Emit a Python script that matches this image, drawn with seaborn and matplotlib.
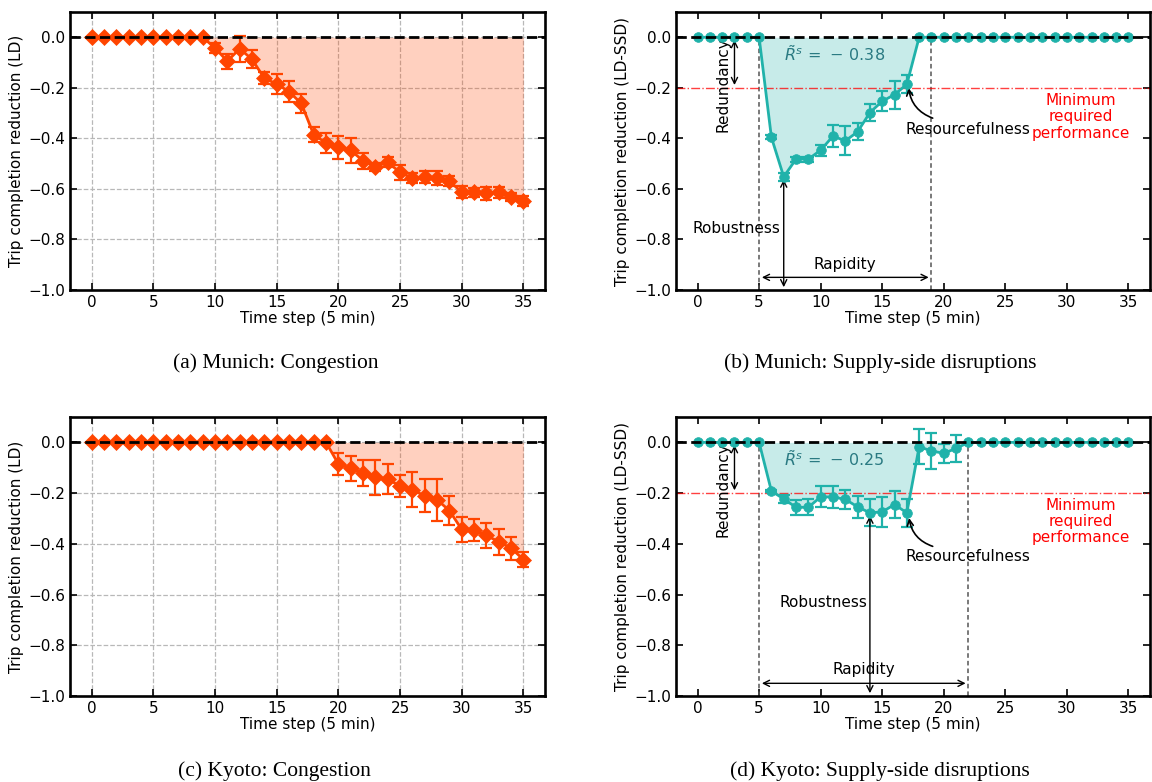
import numpy as np
import pandas as pd
import matplotlib
matplotlib.use("Agg")
import matplotlib.pyplot as plt
import seaborn as sns

# ---------------- data ----------------
time_steps = [0, 1, 2, 3, 4, 5, 6, 7, 8, 9, 10, 11, 12, 13, 14, 15, 16, 17,
              18, 19, 20, 21, 22, 23, 24, 25, 26, 27, 28, 29, 30, 31, 32, 33, 34, 35]

munich_ld = [0, 0, 0, 0, 0, 0, 0, 0, 0, 0,
             -0.042, -0.095, -0.045, -0.087, -0.162, -0.185, -0.215, -0.262,
             -0.385, -0.418, -0.435, -0.447, -0.489, -0.513, -0.494, -0.535,
             -0.557, -0.553, -0.557, -0.569, -0.613, -0.614, -0.618, -0.614,
             -0.631, -0.648]
munich_ld_err = [0, 0, 0, 0, 0, 0, 0, 0, 0, 0,
                 0.020, 0.030, 0.052, 0.035, 0.023, 0.038, 0.042, 0.036,
                 0.028, 0.038, 0.045, 0.050, 0.033, 0.017, 0.021, 0.029,
                 0.020, 0.023, 0.026, 0.020, 0.024, 0.018, 0.024, 0.022,
                 0.015, 0.018]

munich_ssd = [0, 0, 0, 0, 0, 0,
              -0.396, -0.552, -0.482, -0.482, -0.447, -0.391, -0.410, -0.374,
              -0.298, -0.253, -0.227, -0.186,
              0, 0, 0, 0, 0, 0, 0, 0, 0, 0, 0, 0, 0, 0, 0, 0, 0, 0]
munich_ssd_err = [0, 0, 0, 0, 0, 0,
                  0.008, 0.015, 0.010, 0.010, 0.022, 0.042, 0.057, 0.033,
                  0.033, 0.040, 0.055, 0.036,
                  0, 0, 0, 0, 0, 0, 0, 0, 0, 0, 0, 0, 0, 0, 0, 0, 0, 0]

kyoto_ld = [0, 0, 0, 0, 0, 0, 0, 0, 0, 0, 0, 0, 0, 0, 0, 0, 0, 0, 0, 0,
            -0.085, -0.103, -0.121, -0.138, -0.144, -0.173, -0.187, -0.211,
            -0.226, -0.269, -0.343, -0.346, -0.367, -0.392, -0.417, -0.462]
kyoto_ld_err = [0, 0, 0, 0, 0, 0, 0, 0, 0, 0, 0, 0, 0, 0, 0, 0, 0, 0, 0, 0,
                0.045, 0.048, 0.050, 0.068, 0.059, 0.044, 0.069, 0.065,
                0.083, 0.058, 0.048, 0.042, 0.051, 0.052, 0.045, 0.030]

kyoto_ssd = [0, 0, 0, 0, 0, 0,
             -0.192, -0.223, -0.256, -0.256, -0.215, -0.215, -0.225, -0.254,
             -0.278, -0.274, -0.245, -0.278, -0.017, -0.034, -0.043, -0.024,
             0, 0, 0, 0, 0, 0, 0, 0, 0, 0, 0, 0, 0, 0]
kyoto_ssd_err = [0, 0, 0, 0, 0, 0,
                 0.005, 0.016, 0.030, 0.032, 0.041, 0.044, 0.036, 0.043,
                 0.053, 0.059, 0.055, 0.055, 0.069, 0.072, 0.038, 0.053,
                 0, 0, 0, 0, 0, 0, 0, 0, 0, 0, 0, 0, 0, 0]

y_ticks = [0.0, -0.2, -0.4, -0.6, -0.8, -1.0]
x_ticks = [0, 5, 10, 15, 20, 25, 30, 35]

captions = ["(a) Munich: Congestion", "(b) Munich: Supply-side disruptions",
            "(c) Kyoto: Congestion", "(d) Kyoto: Supply-side disruptions"]

# annotation parameters for the supply-side panels
ssd_params = {
    "munich": dict(rs=r"$\tilde{R}^s\,=\,-\,0.38$", recover=19, rob_x=7,
                   rob_y=-0.552, rob_text=(3.15, -0.755), rap_text=(12.0, -0.898),
                   res_text=(22.0, -0.365), res_from=(19.1, -0.32), res_to=(17.15, -0.20),
                   min_text_y=-0.315),
    "kyoto": dict(rs=r"$\tilde{R}^s\,=\,-\,0.25$", recover=22, rob_x=14,
                  rob_y=-0.278, rob_text=(10.2, -0.632), rap_text=(13.5, -0.895),
                  res_text=(22.0, -0.45), res_from=(19.1, -0.41), res_to=(17.18, -0.298),
                  min_text_y=-0.313),
}

# ---------------- style ----------------
sns.set_theme(style="ticks")
plt.rcParams.update({
    "font.family": ["DejaVu Sans"],
    "font.size": 11,
    "text.color": "black",
    "axes.labelcolor": "black",
    "xtick.color": "black",
    "ytick.color": "black",
    "axes.linewidth": 1.9,
    "xtick.direction": "in",
    "ytick.direction": "in",
    "xtick.top": True,
    "ytick.right": True,
    "xtick.major.size": 5,
    "ytick.major.size": 5,
    "xtick.major.width": 1.2,
    "ytick.major.width": 1.2,
    "xtick.labelsize": 11,
    "ytick.labelsize": 11,
    "axes.labelsize": 11,
    "axes.edgecolor": "black",
})

ORANGE = "orangered"
TEAL = "lightseagreen"

fig = plt.figure(figsize=(11.52, 7.82), dpi=100)
W, H = 1152, 782


def add_ax(left, top, right, bottom):
    return fig.add_axes([left / W, 1 - bottom / H, (right - left) / W, (bottom - top) / H])


ax_a = add_ax(70, 12, 545, 290)
ax_b = add_ax(676, 12, 1150, 290)
ax_c = add_ax(70, 417, 545, 696)
ax_d = add_ax(676, 417, 1150, 696)


def base(ax, ylabel, grid):
    ax.set_xlim(-1.75, 36.75)
    ax.set_ylim(-1.0, 0.1)
    ax.set_xticks(x_ticks)
    ax.set_yticks(y_ticks)
    ax.set_xlabel("Time step (5 min)", labelpad=1)
    ax.set_ylabel(ylabel, labelpad=3)
    if grid:
        ax.grid(True, color="#b8b8b8", linestyle="--", linewidth=0.9)
    else:
        ax.grid(False)
    ax.tick_params(which="both", top=True, right=True, labeltop=False, labelright=False)
    ax.axhline(0, color="black", linestyle="--", linewidth=2, zorder=6)


def draw_series(ax, vals, errs, color, marker, ms):
    df = pd.DataFrame({"t": time_steps, "v": vals, "e": errs})
    ax.fill_between(df["t"], df["v"], 0, color=color, alpha=0.25, linewidth=0, zorder=1)
    sub = df[df["e"] > 0]
    ax.errorbar(sub["t"], sub["v"], yerr=sub["e"], fmt="none", ecolor=color,
                elinewidth=1.6, capsize=4, capthick=1.6, zorder=3)
    sns.lineplot(data=df, x="t", y="v", ax=ax, color=color, linewidth=2,
                 marker=marker, markersize=ms, markeredgecolor=color,
                 markeredgewidth=0.5, zorder=4, legend=False)


def ssd_annotations(ax, p):
    ax.vlines([5, p["recover"]], -1.0, 0, colors="#555555", linestyles=(0, (3, 2)),
              linewidth=1.1, zorder=2)
    ax.axhline(-0.2, color="red", linestyle="-.", linewidth=1.0, alpha=0.75, zorder=2)
    arrow = dict(arrowstyle="<->", color="black", lw=1.0)
    # Redundancy
    ax.annotate("", xy=(3, -0.2), xytext=(3, 0), arrowprops=arrow)
    ax.text(2.06, -0.186, "Redundancy", rotation=90, ha="center", va="center", fontsize=11)
    # Rs
    ax.text(7.0, -0.066, p["rs"], ha="left", va="center", color="#2a7a82", fontsize=11.5)
    # Minimum
    ax.text(31.15, p["min_text_y"], "Minimum\nrequired\nperformance", ha="center",
            va="center", color="red", fontsize=11, linespacing=1.1)
    # Resourcefulness
    ax.text(p["res_text"][0], p["res_text"][1], "Resourcefulness", ha="center",
            va="center", fontsize=11)
    ax.annotate("", xy=p["res_to"], xytext=p["res_from"],
                arrowprops=dict(arrowstyle="->", color="black", lw=1.2,
                                connectionstyle="arc3,rad=-0.3", shrinkA=0, shrinkB=0))
    # Robustness
    ax.annotate("", xy=(p["rob_x"], p["rob_y"]), xytext=(p["rob_x"], -1.0), arrowprops=arrow)
    ax.text(p["rob_text"][0], p["rob_text"][1], "Robustness", ha="center", va="center",
            fontsize=11)
    # Rapidity
    ax.annotate("", xy=(5, -0.95), xytext=(p["recover"], -0.95), arrowprops=arrow)
    ax.text(p["rap_text"][0], p["rap_text"][1], "Rapidity", ha="center", va="center",
            fontsize=11)


base(ax_a, "Trip completion reduction (LD)", True)
draw_series(ax_a, munich_ld, munich_ld_err, ORANGE, "D", 8)

base(ax_b, "Trip completion reduction (LD-SSD)", False)
draw_series(ax_b, munich_ssd, munich_ssd_err, TEAL, "o", 7)
ssd_annotations(ax_b, ssd_params["munich"])

base(ax_c, "Trip completion reduction (LD)", True)
draw_series(ax_c, kyoto_ld, kyoto_ld_err, ORANGE, "D", 8)

base(ax_d, "Trip completion reduction (LD-SSD)", False)
draw_series(ax_d, kyoto_ssd, kyoto_ssd_err, TEAL, "o", 7)
ssd_annotations(ax_d, ssd_params["kyoto"])

cap_pos = [(276, 363), (880, 363), (274, 771), (880, 771)]
for (cx, cy), txt in zip(cap_pos, captions):
    fig.text(cx / W, 1 - cy / H, txt, ha="center", va="center", color="black",
             family=["Liberation Serif", "DejaVu Serif"], fontsize=15.5)

fig.savefig("out.png", dpi=100)
